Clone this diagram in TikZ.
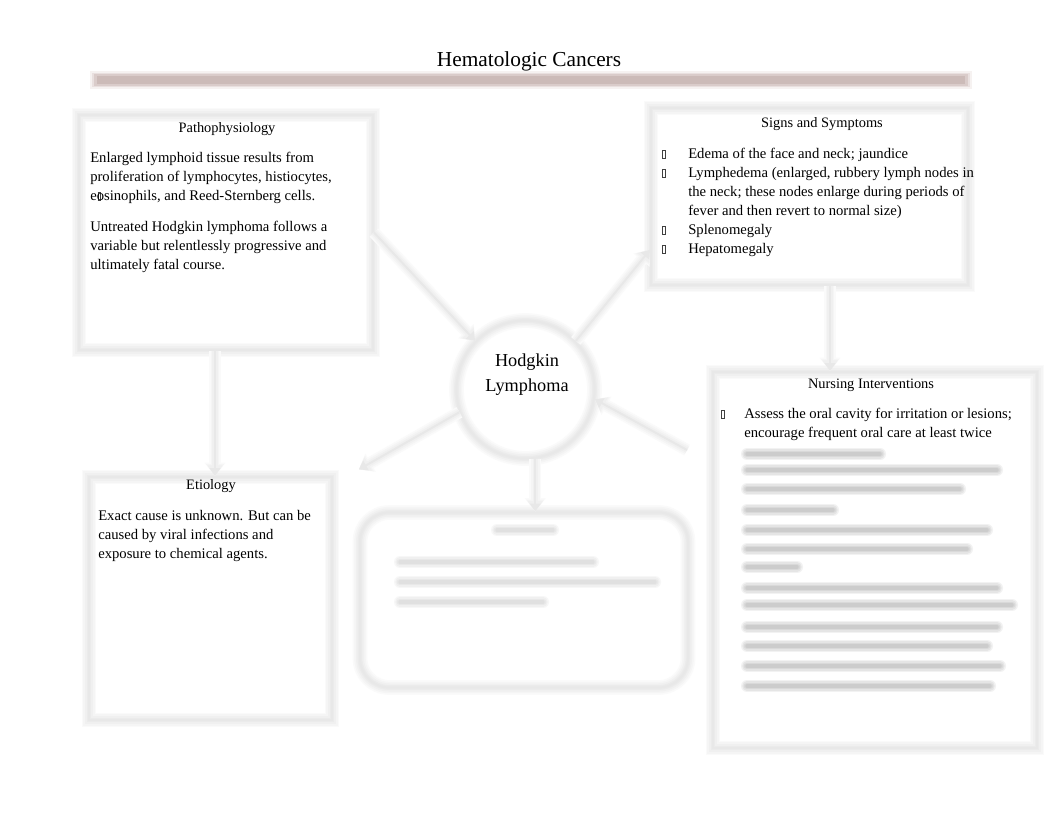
\documentclass[tikz,border=0pt]{standalone}
\usepackage{fontspec}
\setmainfont{Liberation Serif}
\usetikzlibrary{arrows.meta}
\definecolor{barA}{RGB}{246,242,241}
\definecolor{barB}{RGB}{233,224,223}
\definecolor{barC}{RGB}{218,204,202}
\definecolor{barD}{RGB}{204,187,184}
\newcommand\gbox{{\color{black!75}\setlength\fboxsep{0pt}\setlength\fboxrule{0.35pt}\fbox{\rule{0pt}{5.9pt}\hspace{1.8pt}}}}
\begin{document}
\begin{tikzpicture}[x=0.75pt,y=-0.75pt,
 softbox/.style={draw=black!9, line width=1.5pt, inner sep=0pt,
   preaction={draw=black!2, line width=11pt},
   preaction={draw=black!4, line width=8.5pt},
   preaction={draw=black!6, line width=6pt},
   preaction={draw=black!8, line width=3.5pt}},
 conn/.style={draw=black!9, line width=1.5pt, -{Triangle[length=6pt,width=8pt]},
   preaction={draw=black!2, line width=9pt, -{Triangle[length=10pt,width=15pt]}},
   preaction={draw=black!4, line width=6.5pt, -{Triangle[length=9pt,width=13pt]}},
   preaction={draw=black!6, line width=4pt, -{Triangle[length=8pt,width=11pt]}}},
 blur/.style={draw=black!20, line width=2.5pt, line cap=round,
   preaction={draw=black!5, line width=9pt, line cap=round},
   preaction={draw=black!10, line width=7pt, line cap=round},
   preaction={draw=black!15, line width=5pt, line cap=round}},
 blurlight/.style={draw=black!12, line width=2.5pt, line cap=round,
   preaction={draw=black!3, line width=9pt, line cap=round},
   preaction={draw=black!6, line width=7pt, line cap=round},
   preaction={draw=black!9, line width=5pt, line cap=round}},
 body/.style={font=\fontsize{11pt}{14pt}\selectfont, inner sep=0pt, anchor=base west},
 head/.style={font=\fontsize{10.8pt}{13pt}\selectfont, inner sep=0pt, anchor=base},
 bul/.style={inner sep=0pt, anchor=base},
 hubtxt/.style={font=\fontsize{13.7pt}{17pt}\selectfont, inner sep=0pt, anchor=base},
]
\path[use as bounding box, fill=white] (0,0) rectangle (1062,822);

% bar under the title
\draw[barA, line width=14pt] (90,80) -- (972,80);
\draw[barB, line width=11pt] (92,80) -- (970,80);
\draw[barC, line width=8.5pt] (94,80) -- (968,80);
\draw[barD, line width=6pt] (97,80) -- (965,80);
\node[font=\fontsize{16pt}{19pt}\selectfont, inner sep=0pt, anchor=base] (title) at (529,66) {Hematologic Cancers};

% boxes
\node[softbox, minimum width=220.5pt, minimum height=176.25pt] (patho) at (226,232.5) {};
\node[softbox, minimum width=237.75pt, minimum height=132.75pt] (signs) at (809.5,196.5) {};
\node[softbox, minimum width=243pt, minimum height=282pt] (nurse) at (875,560) {};
\node[softbox, minimum width=182.25pt, minimum height=182.25pt] (etio) at (210.5,598.5) {};
\node[softbox, rounded corners=22pt, minimum width=246pt, minimum height=131.25pt] (bbox) at (524,600) {};
\node[softbox, circle, minimum size=103.5pt] (hub) at (525.5,389.5) {};

% connectors
\draw[conn] (patho.east) -- (hub.136);
\draw[conn] (hub.44) -- ([yshift=-40pt]signs.west);
\draw[conn] ([shift={(-18.75pt,82.5pt)}]nurse.west) -- (hub.-8);
\draw[conn] (hub.199) -- ([shift={(19.5pt,5pt)}]etio.north east);
\draw[conn] (hub.-82) -- (hub.-82 |- bbox.north);
\draw[conn] ([xshift=-8.25pt]patho.south) -- ([xshift=-8.25pt]patho.south |- etio.north);
\draw[conn] ([xshift=15.4pt]signs.south) -- ([xshift=15.4pt]signs.south |- nurse.north);

% blurred text
\foreach \yy/\xx in {454/880,470/997,489/960,510/833,530/987,549/967,567/797,588/997,605/1012,627/997,646/987,666/1000,686/990}
  \draw[blur] (747,\yy) -- (\xx,\yy);
\draw[blurlight] (497,530) -- (553,530);
\draw[blurlight] (400,562) -- (593,562);
\draw[blurlight] (400,582) -- (655,582);
\draw[blurlight] (400,602) -- (543,602);

% hub text
\node[hubtxt] (hub1) at (527,366) {Hodgkin};
\node[hubtxt] (hub2) at (527,391) {Lymphoma};

% pathophysiology
\node[head] (phH) at (227,132) {Pathophysiology};
\node[body] (ph1) at (90,162) {Enlarged lymphoid tissue results from};
\node[body] (ph2) at (90,181) {proliferation of lymphocytes, histiocytes,};
\node[body] (ph3) at (90,200) {e\makebox[0pt][l]{\hspace{0.6pt}\gbox}osinophils, and Reed-Sternberg cells.};
\node[body] (ph4) at (90,231) {Untreated Hodgkin lymphoma follows a};
\node[body] (ph5) at (90,250) {variable but relentlessly progressive and};
\node[body] (ph6) at (90,269) {ultimately fatal course.};

% signs and symptoms
\node[head] (ssH) at (822,127) {Signs and Symptoms};
\node[bul] (sb1) at (664,158) {\gbox};
\node[bul] (sb2) at (664,177) {\gbox};
\node[bul] (sb3) at (664,234) {\gbox};
\node[bul] (sb4) at (664,253) {\gbox};
\node[body] (ss1) at (688,158) {Edema of the face and neck; jaundice};
\node[body] (ss2) at (688,177) {Lymphedema (enlarged, rubbery lymph nodes in};
\node[body] (ss3) at (688,196) {the neck; these nodes enlarge during periods of};
\node[body] (ss4) at (688,215) {fever and then revert to normal size)};
\node[body] (ss5) at (688,234) {Splenomegaly};
\node[body] (ss6) at (688,253) {Hepatomegaly};

% nursing interventions
\node[head] (niH) at (871,388) {Nursing Interventions};
\node[bul] (nb1) at (723,418) {\gbox};
\node[body] (ni1) at (744,418) {Assess the oral cavity for irritation or lesions;};
\node[body] (ni2) at (744,437) {encourage frequent oral care at least twice};

% etiology
\node[head] (etH) at (211,489) {Etiology};
\node[body] (et1) at (98,520) {Exact cause is unknown. But can be};
\node[body] (et2) at (98,539) {caused by viral infections and};
\node[body] (et3) at (98,558) {exposure to chemical agents.};
\end{tikzpicture}
\end{document}
